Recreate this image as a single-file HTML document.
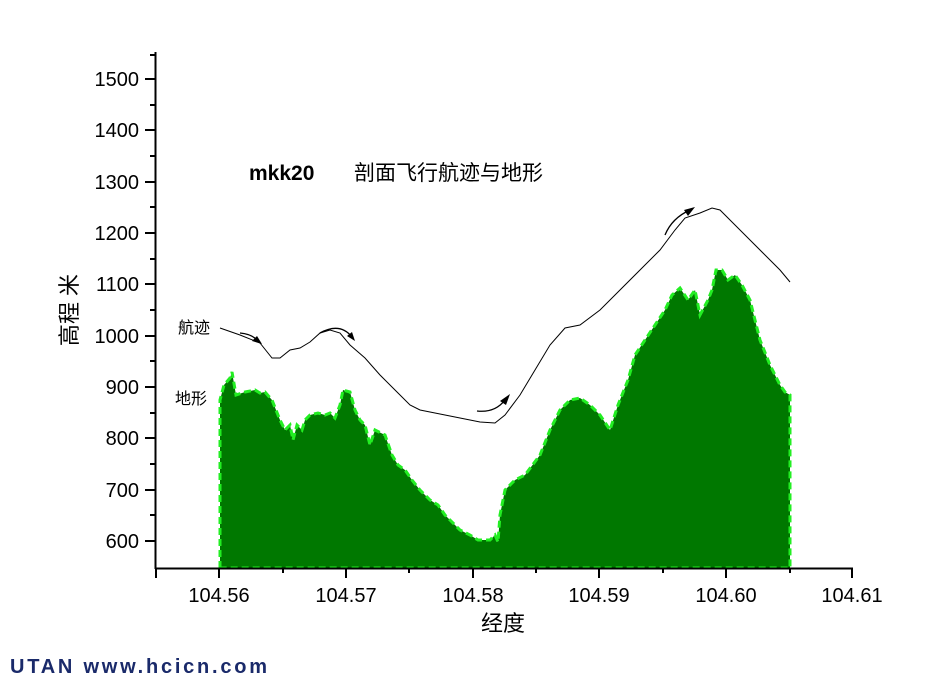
<!DOCTYPE html>
<html><head><meta charset="utf-8"><style>
body{margin:0;background:#fff;}
svg{display:block}
text{font-family:"Liberation Sans","Noto Sans CJK SC",sans-serif;}
</style></head><body>
<svg width="939" height="688" viewBox="0 0 939 688" xmlns="http://www.w3.org/2000/svg">
<rect width="939" height="688" fill="#fff"/>
<polygon fill="#007800" stroke="#22ee22" stroke-width="3" stroke-dasharray="7,4" points="220,568 220,400 224,385 230,378 232,372 236,395 245,392 255,390 260,393 265,392 272,400 280,420 285,430 290,425 293,440 297,425 302,430 305,420 310,415 318,413 325,415 330,413 335,418 340,405 343,390 350,392 355,410 360,420 365,425 370,445 375,430 385,435 392,455 398,465 405,470 412,480 420,490 430,500 438,505 445,515 450,520 460,530 470,535 478,540 490,540 495,535 498,542 500,515 505,490 515,480 525,475 540,455 550,430 560,410 570,400 580,398 590,405 600,415 610,430 618,405 628,380 635,355 645,340 655,325 665,310 672,295 680,288 688,300 695,290 700,315 708,300 712,290 716,270 722,270 728,280 735,275 742,285 750,300 760,340 770,365 780,385 785,392 790,395 790,568"/>
<polyline fill="none" stroke="#000" stroke-width="1" points="220,328 240,335 260,343 272,358 280,358 290,350 300,348 310,342 320,333 330,330 340,333 350,345 365,358 380,375 395,390 410,405 420,410 440,414 460,418 480,422 495,423 505,415 520,395 535,370 550,345 565,328 580,325 600,310 620,290 640,270 660,250 675,230 685,218 700,213 712,208 720,210 735,225 750,240 765,255 780,270 790,282"/>
<g stroke="#000" stroke-width="1.3" fill="none">
<path d="M240,333 Q252,334 258,341"/><path d="M320,333 Q340,322 352,337"/><path d="M477,411 Q495,413 505,400"/><path d="M665,235 Q672,218 690,210"/>
</g>
<g fill="#000">
<polygon points="262,344 252,341 257,336"/><polygon points="355,341 347,336 352,332"/><polygon points="510,394 506,405 500,401"/><polygon points="695,207 688,216 684,210"/>
</g>
<g stroke="#000" stroke-width="2" fill="none">
<line x1="155.5" y1="52" x2="155.5" y2="569"/>
<line x1="155" y1="568.5" x2="853" y2="568.5"/>
</g>
<g stroke="#000" stroke-width="2">
<line x1="145" y1="79" x2="155" y2="79"/><line x1="150" y1="105" x2="155" y2="105"/>
<line x1="145" y1="130" x2="155" y2="130"/><line x1="150" y1="156" x2="155" y2="156"/>
<line x1="145" y1="182" x2="155" y2="182"/><line x1="150" y1="207" x2="155" y2="207"/>
<line x1="145" y1="233" x2="155" y2="233"/><line x1="150" y1="259" x2="155" y2="259"/>
<line x1="145" y1="284" x2="155" y2="284"/><line x1="150" y1="310" x2="155" y2="310"/>
<line x1="145" y1="336" x2="155" y2="336"/><line x1="150" y1="361" x2="155" y2="361"/>
<line x1="145" y1="387" x2="155" y2="387"/><line x1="150" y1="413" x2="155" y2="413"/>
<line x1="145" y1="438" x2="155" y2="438"/><line x1="150" y1="464" x2="155" y2="464"/>
<line x1="145" y1="490" x2="155" y2="490"/><line x1="150" y1="515" x2="155" y2="515"/>
<line x1="145" y1="541" x2="155" y2="541"/><line x1="150" y1="55" x2="155" y2="55"/>
<line x1="219" y1="568" x2="219" y2="578"/><line x1="283" y1="568" x2="283" y2="573"/>
<line x1="346" y1="568" x2="346" y2="578"/><line x1="409" y1="568" x2="409" y2="573"/>
<line x1="473" y1="568" x2="473" y2="578"/><line x1="536" y1="568" x2="536" y2="573"/>
<line x1="599" y1="568" x2="599" y2="578"/><line x1="663" y1="568" x2="663" y2="573"/>
<line x1="726" y1="568" x2="726" y2="578"/><line x1="790" y1="568" x2="790" y2="573"/>
<line x1="852" y1="568" x2="852" y2="578"/><line x1="156" y1="568" x2="156" y2="578"/>
</g>
<g font-size="20" text-anchor="end" fill="#000">
<text x="139" y="86">1500</text><text x="139" y="137">1400</text><text x="139" y="189">1300</text>
<text x="139" y="240">1200</text><text x="139" y="291">1100</text><text x="139" y="343">1000</text>
<text x="139" y="394">900</text><text x="139" y="445">800</text><text x="139" y="497">700</text>
<text x="139" y="548">600</text>
</g>
<g font-size="20" text-anchor="middle" fill="#000">
<text x="219" y="602">104.56</text><text x="346" y="602">104.57</text><text x="473" y="602">104.58</text>
<text x="599" y="602">104.59</text><text x="726" y="602">104.60</text><text x="852" y="602">104.61</text>
</g>
<text x="503" y="631" font-size="22" text-anchor="middle">经度</text>
<text transform="translate(77,310) rotate(-90)" font-size="22" text-anchor="middle">高程  米</text>
<text x="249" y="180" font-size="21" font-weight="bold">mkk20</text>
<text x="354" y="180" font-size="21">剖面飞行航迹与地形</text>
<text x="178" y="333" font-size="16">航迹</text>
<text x="175" y="404" font-size="16">地形</text>
<text x="10" y="673" font-size="20" font-weight="bold" fill="#1a2a6a" textLength="257" lengthAdjust="spacing">UTAN  www.hcicn.com</text>
</svg>
</body></html>
